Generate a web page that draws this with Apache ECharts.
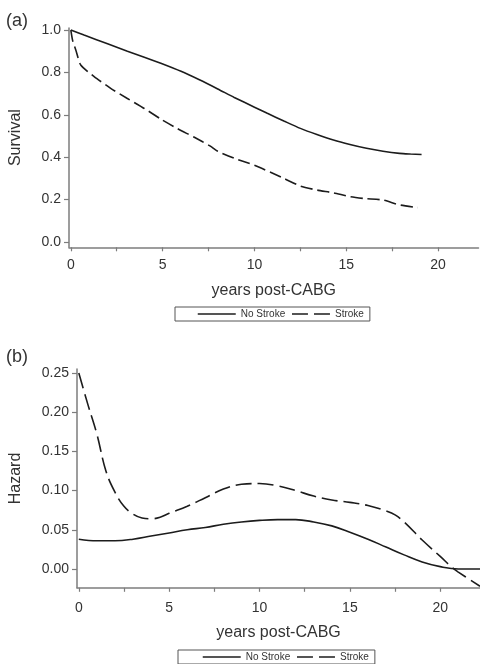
<!DOCTYPE html>
<html>
<head>
<meta charset="utf-8">
<script src="https://cdn.jsdelivr.net/npm/echarts@6/dist/echarts.min.js"></script>
<style>
html,body{margin:0;padding:0;background:#fff;}
#chart{width:480px;height:664px;}
</style>
</head>
<body>
<div id="chart"></div>
<script>
// ---- Data ----
const seriesNames = ["No Stroke", "Stroke"];

// Panel (a): Survival
const survNoStrokeYears = [0, 0.72, 2, 3.08, 4, 4.9, 6, 7, 8, 8.9, 10, 10.7, 11.6, 12.5, 13.4, 14.3, 15.2, 16.1, 17, 17.9, 18.5, 19.1];
const survNoStrokeVals  = [1.0, 0.976, 0.935, 0.9, 0.872, 0.843, 0.805, 0.765, 0.722, 0.682, 0.636, 0.607, 0.571, 0.536, 0.507, 0.481, 0.46, 0.442, 0.428, 0.418, 0.415, 0.413];

const survStrokeYears = [0, 0.1, 0.27, 0.54, 1.27, 2.17, 3.08, 4, 4.9, 5.8, 6.7, 7.6, 8.0, 8.9, 10, 11.6, 12.5, 13.4, 14.3, 15.2, 16, 17, 17.9, 18.9];
const survStrokeVals  = [1.0, 0.95, 0.906, 0.835, 0.78, 0.725, 0.677, 0.63, 0.58, 0.535, 0.495, 0.452, 0.428, 0.395, 0.362, 0.30, 0.264, 0.245, 0.232, 0.214, 0.205, 0.198, 0.175, 0.162];

// Panel (b): Hazard
const hazNoStrokeYears = [0, 1, 2, 3, 4, 5, 6, 7, 8, 9, 10, 11, 12, 13, 14, 15, 16, 17, 18, 19, 20, 21, 22.2];
const hazNoStrokeVals  = [0.038, 0.036, 0.036, 0.038, 0.042, 0.046, 0.050, 0.053, 0.057, 0.060, 0.062, 0.063, 0.063, 0.060, 0.055, 0.047, 0.038, 0.028, 0.018, 0.009, 0.003, 0.0, 0.0];

const hazStrokeYears = [0, 0.5, 1, 1.5, 2, 2.5, 3, 3.5, 4, 4.5, 5, 6, 7, 8, 9, 10, 11, 12, 13, 14, 15, 16, 17, 17.5, 18, 19, 20, 20.7, 21, 22.2];
const hazStrokeVals  = [0.25, 0.21, 0.172, 0.125, 0.098, 0.08, 0.07, 0.065, 0.064, 0.066, 0.071, 0.080, 0.091, 0.102, 0.108, 0.109, 0.106, 0.100, 0.093, 0.088, 0.085, 0.081, 0.074, 0.069, 0.060, 0.037, 0.016, 0.001, -0.004, -0.022];

// Tick labels
const xTickLabels = [0, 5, 10, 15, 20];
const xTickMarks = [0, 2.5, 5, 7.5, 10, 12.5, 15, 17.5, 20];
const survTicks = [0, 0.2, 0.4, 0.6, 0.8, 1.0];
const hazTicks = [0, 0.05, 0.10, 0.15, 0.20, 0.25];

// ---- Build ----
const zip = (xs, ys) => xs.map((x, i) => [x, ys[i]]);
const AXIS_COLOR = '#7d7d7d';
const TEXT_COLOR = '#333';
const LINE_COLOR = '#1c1c1c';
const FONT = 'Liberation Sans, Arial, sans-serif';

function xAxisCfg(gridIndex, gap, labelMargin) {
  return {
    gridIndex, type: 'value', min: -0.1, max: 22.2,
    name: 'years post-CABG', nameLocation: 'middle', nameGap: gap,
    nameTextStyle: { fontSize: 16, color: TEXT_COLOR, fontFamily: FONT },
    axisLine: { show: true, onZero: false, lineStyle: { color: AXIS_COLOR, width: 1.5 } },
    axisTick: { show: true, customValues: xTickMarks, length: 4, lineStyle: { color: AXIS_COLOR, width: 1.2 } },
    axisLabel: { customValues: xTickLabels, margin: labelMargin, fontSize: 14, color: TEXT_COLOR, fontFamily: FONT,
      formatter: v => String(Math.round(v)) },
    splitLine: { show: false }
  };
}
function yAxisCfg(gridIndex, name, min, max, ticks, dec, gap) {
  return {
    gridIndex, type: 'value', min, max,
    name, nameLocation: 'middle', nameGap: gap,
    nameTextStyle: { fontSize: 16, color: TEXT_COLOR, fontFamily: FONT },
    axisLine: { show: true, onZero: false, lineStyle: { color: AXIS_COLOR, width: 1.5 } },
    axisTick: { show: true, customValues: ticks, length: 5, lineStyle: { color: AXIS_COLOR, width: 1.2 } },
    axisLabel: { customValues: ticks, margin: 8, fontSize: 14, color: TEXT_COLOR, fontFamily: FONT,
      formatter: v => v.toFixed(dec) },
    splitLine: { show: false }
  };
}
function lineSeries(name, xi, data, dash, smooth) {
  return {
    name, type: 'line', xAxisIndex: xi, yAxisIndex: xi, data,
    showSymbol: false, symbol: 'none', smooth, silent: true,
    lineStyle: { color: LINE_COLOR, width: 1.6, type: dash || 'solid' },
    itemStyle: { color: LINE_COLOR }
  };
}
function legendCfg(left, top, padLeft) {
  return {
    left, top, orient: 'horizontal',
    padding: [2, 6, 2, padLeft],
    borderColor: '#555', borderWidth: 1,
    itemWidth: 38, itemHeight: 10, itemGap: 6,
    textStyle: { fontSize: 10, color: TEXT_COLOR, fontFamily: FONT },
    selectedMode: false,
    itemStyle: { opacity: 0 },
    data: [
      { name: seriesNames[0], itemStyle: { opacity: 0 }, lineStyle: { type: 'solid', width: 1.5, color: LINE_COLOR } },
      { name: seriesNames[1], itemStyle: { opacity: 0 }, lineStyle: { type: [16, 6], width: 1.5, color: LINE_COLOR } }
    ]
  };
}

const option = {
  animation: false,
  backgroundColor: '#fff',
  textStyle: { fontFamily: FONT },
  grid: [
    { left: 68.2, top: 27.9, width: 410.3, height: 219.4 },
    { left: 76.2, top: 369.1, width: 403.8, height: 218.7 }
  ],
  xAxis: [xAxisCfg(0, 35, 11), xAxisCfg(1, 37, 13)],
  yAxis: [
    yAxisCfg(0, 'Survival', -0.025, 1.01, survTicks, 1, 45),
    yAxisCfg(1, 'Hazard', -0.024, 0.255, hazTicks, 2, 53)
  ],
  legend: [legendCfg(175, 307, 22), legendCfg(178, 650, 24)],
  graphic: [
    { type: 'text', left: 6, top: 12, style: { text: '(a)', fontSize: 18, fill: TEXT_COLOR, fontFamily: FONT } },
    { type: 'text', left: 6, top: 348, style: { text: '(b)', fontSize: 18, fill: TEXT_COLOR, fontFamily: FONT } }
  ],
  series: [
    lineSeries(seriesNames[0], 0, zip(survNoStrokeYears, survNoStrokeVals), 'solid', 0.25),
    lineSeries(seriesNames[1], 0, zip(survStrokeYears, survStrokeVals), [12, 5], 0.2),
    lineSeries(seriesNames[0], 1, zip(hazNoStrokeYears, hazNoStrokeVals), 'solid', 0.4),
    lineSeries(seriesNames[1], 1, zip(hazStrokeYears, hazStrokeVals), [16, 6], 0.4)
  ]
};

const chart = echarts.init(document.getElementById('chart'), null, { renderer: 'canvas' });
chart.setOption(option);
</script>
</body>
</html>
